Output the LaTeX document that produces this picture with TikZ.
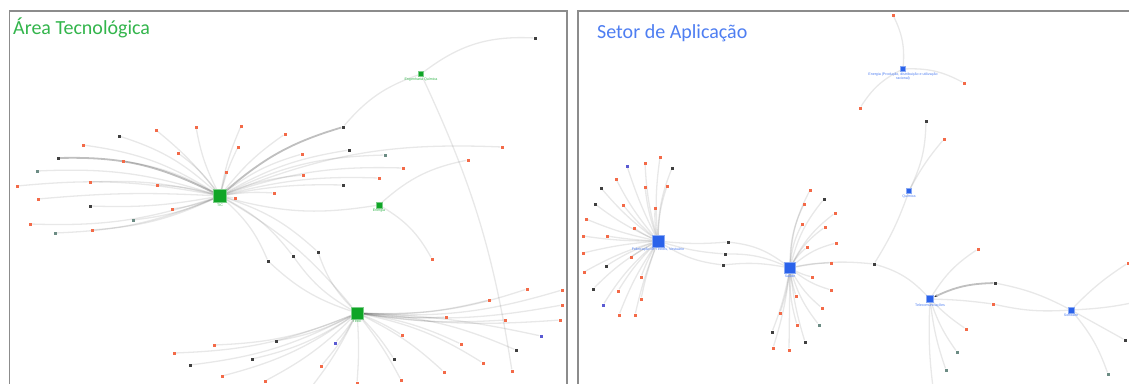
\documentclass[tikz,border=0pt]{standalone}
\usepackage{fontspec}
\setmainfont{Liberation Sans}
\newfontfamily\titlefont{Carlito}
\usetikzlibrary{backgrounds,arrows.meta}
\definecolor{orng}{HTML}{F36A48}
\definecolor{dkg}{HTML}{3F3F3F}
\definecolor{teal2}{HTML}{6C8C84}
\definecolor{purp}{HTML}{5A5AD2}
\definecolor{hubg}{HTML}{0FA526}
\definecolor{hubb}{HTML}{2A62EA}
\definecolor{titg}{HTML}{33B54C}
\definecolor{titb}{HTML}{4E7EF2}
\definecolor{framec}{HTML}{8C8C8C}
\tikzset{
 leaf/.style={rectangle,inner sep=0pt,minimum size=3pt,draw=none},
 lo/.style={leaf,fill=orng}, lk/.style={leaf,fill=dkg},
 lt/.style={leaf,fill=teal2}, lb/.style={leaf,fill=purp},
 hubG/.style={rectangle,inner sep=0pt,minimum size=#1,fill=hubg,draw=hubg!55!white,line width=0.5pt},
 hubB/.style={rectangle,inner sep=0pt,minimum size=#1,fill=hubb,draw=hubb!55!white,line width=0.5pt},
 lblG/.style={font=\fontsize{3.6}{4}\selectfont,text=titg,inner sep=0.3pt},
 lblB/.style={font=\fontsize{3.6}{4}\selectfont,text=titb,inner sep=0.3pt,align=center},
 edge/.style={draw=black,draw opacity=0.09,line width=1.3pt},
 heavy/.style={draw=black,draw opacity=0.25,line width=1.8pt},
 frm/.style={draw=framec,line width=1.5pt},
 ttl/.style={font=\titlefont\fontsize{20}{22}\selectfont,inner sep=0pt,anchor=base west},
}
\newcommand\myedge[3]{\draw[edge] (#1) to[bend left=#3] (#2);}
\begin{document}
\begin{tikzpicture}[x=1pt,y=1pt]
\useasboundingbox (0,0) rectangle (1129,-383);
\draw[frm] (9.5,-400) -- (9.5,-11) -- (567,-11) -- (567,-400);
\draw[frm] (578,-400) -- (578,-11) -- (1150,-11);
\node[ttl,text=titg] (tl) at (13,-34) {Área Tecnológica};
\node[ttl,text=titb] (tr) at (597,-38) {Setor de Aplicação};

% ---------- left panel hubs
\node[hubG=13pt,label={[lblG,label distance=0.3pt]below:TIC}] (tic) at (220,-196) {};
\node[hubG=12pt,label={[lblG,label distance=0.3pt]below:Têxtil}] (tex) at (357,-313) {};
\node[hubG=5pt,label={[lblG,label distance=0.3pt]below:Engenharia Química}] (engq) at (421,-74) {};
\node[hubG=6pt,label={[lblG,label distance=0.3pt]below:Energia}] (ener) at (379,-205) {};

% TIC leaves
\node[lk] (t1) at (119,-136) {}; \node[lo] (t2) at (156,-130) {};
\node[lo] (t3) at (196,-127) {}; \node[lo] (t4) at (241,-126) {};
\node[lo] (t5) at (285,-134) {}; \node[lo] (t6) at (83,-145) {};
\node[lo] (t7) at (178,-153) {}; \node[lo] (t8) at (238,-147) {};
\node[lk] (t9) at (58,-158) {};  \node[lo] (t10) at (123,-161) {};
\node[lt] (t11) at (37,-171) {}; \node[lo] (t12) at (226,-172) {};
\node[lo] (t13) at (17,-186) {}; \node[lo] (t14) at (90,-182) {};
\node[lo] (t15) at (157,-185) {}; \node[lo] (t16) at (274,-193) {};
\node[lo] (t17) at (235,-198) {}; \node[lo] (t18) at (38,-199) {};
\node[lk] (t19) at (90,-206) {}; \node[lo] (t20) at (172,-209) {};
\node[lo] (t21) at (30,-224) {}; \node[lt] (t22) at (133,-220) {};
\node[lo] (t23) at (92,-230) {}; \node[lt] (t24) at (55,-233) {};
\node[lk] (t25) at (343,-127) {}; \node[lo] (t26) at (302,-154) {};
\node[lk] (t27) at (349,-150) {}; \node[lt] (t28) at (385,-155) {};
\node[lo] (t29) at (502,-147) {}; \node[lo] (t30) at (303,-175) {};
\node[lo] (t31) at (403,-168) {}; \node[lo] (t32) at (379,-178) {};
\node[lk] (t33) at (343,-185) {};
\node[lk] (b1) at (268,-261) {}; \node[lk] (b2) at (293,-256) {};
\node[lk] (b3) at (318,-252) {};
\node[lo] (e1) at (468,-160) {}; \node[lo] (e2) at (432,-259) {};
\node[lk] (q1) at (535,-38) {};  \node[lo] (q2) at (512,-371) {};
% Textil leaves
\node[lo] (x1) at (527,-289) {}; \node[lo] (x2) at (562,-290) {};
\node[lo] (x3) at (489,-300) {}; \node[lo] (x4) at (562,-305) {};
\node[lo] (x5) at (446,-317) {}; \node[lo] (x6) at (505,-320) {};
\node[lo] (x7) at (560,-320) {}; \node[lb] (x8) at (541,-336) {};
\node[lo] (x9) at (402,-335) {}; \node[lo] (x10) at (461,-344) {};
\node[lk] (x11) at (516,-350) {}; \node[lo] (x12) at (483,-363) {};
\node[lo] (x13) at (444,-372) {}; \node[lk] (x14) at (394,-359) {};
\node[lo] (x15) at (401,-380) {}; \node[lo] (x16) at (357,-383) {};
\node[lo] (x17) at (321,-366) {}; \node[lo] (x18) at (265,-381) {};
\node[lb] (x19) at (335,-343) {}; \node[lk] (x20) at (276,-341) {};
\node[lo] (x21) at (214,-345) {}; \node[lo] (x22) at (174,-353) {};
\node[lk] (x23) at (252,-359) {}; \node[lk] (x24) at (190,-365) {};
\node[lo] (x25) at (222,-376) {};
\coordinate (xoff) at (305,-395);

% ---------- right panel hubs
\node[hubB=12pt,label={[lblB,label distance=0.3pt]below:Fabricação de Têxteis, Vestuário}] (fab) at (658,-241) {};
\node[hubB=11pt,label={[lblB,label distance=0.3pt]below:Saúde}] (sau) at (790,-268) {};
\node[hubB=5pt,label={[lblB,label distance=0.3pt]below:{Energia (Produção, distribuição e utilização\\racional)}}] (enr) at (903,-69) {};
\node[hubB=5pt,label={[lblB,label distance=0.3pt]below:Química}] (qui) at (909,-191) {};
\node[hubB=7pt,label={[lblB,label distance=0.3pt]below:Telecomunicações}] (tel) at (930,-299) {};
\node[hubB=6pt,label={[lblB,label distance=0.3pt]below:Software}] (sof) at (1071,-310) {};

% Fabricacao leaves
\node[lb] (f1) at (627,-166) {}; \node[lo] (f2) at (645,-163) {};
\node[lo] (f3) at (660,-157) {}; \node[lk] (f4) at (672,-168) {};
\node[lo] (f5) at (616,-179) {}; \node[lo] (f6) at (645,-187) {};
\node[lo] (f7) at (667,-186) {}; \node[lk] (f8) at (601,-188) {};
\node[lk] (f9) at (595,-204) {}; \node[lo] (f10) at (623,-205) {};
\node[lo] (f11) at (655,-208) {}; \node[lo] (f12) at (586,-219) {};
\node[lo] (f13) at (634,-228) {}; \node[lo] (f14) at (583,-236) {};
\node[lo] (f15) at (607,-236) {}; \node[lo] (f16) at (583,-253) {};
\node[lo] (f17) at (631,-257) {}; \node[lk] (f18) at (606,-266) {};
\node[lo] (f19) at (584,-272) {}; \node[lo] (f20) at (641,-277) {};
\node[lk] (f21) at (593,-289) {}; \node[lo] (f22) at (618,-291) {};
\node[lo] (f23) at (641,-299) {}; \node[lb] (f24) at (603,-305) {};
\node[lo] (f25) at (619,-315) {}; \node[lo] (f26) at (635,-315) {};
\node[lk] (c1) at (728,-242) {}; \node[lk] (c2) at (725,-254) {};
\node[lk] (c3) at (723,-265) {};
% Saude leaves
\node[lo] (s1) at (810,-190) {}; \node[lo] (s2) at (804,-204) {};
\node[lk] (s3) at (824,-199) {}; \node[lo] (s4) at (835,-213) {};
\node[lo] (s5) at (802,-224) {}; \node[lo] (s6) at (825,-227) {};
\node[lo] (s7) at (807,-247) {}; \node[lo] (s8) at (836,-243) {};
\node[lo] (s9) at (831,-263) {}; \node[lo] (s10) at (812,-277) {};
\node[lo] (s11) at (831,-290) {}; \node[lo] (s12) at (796,-296) {};
\node[lo] (s13) at (822,-308) {}; \node[lo] (s14) at (780,-313) {};
\node[lo] (s15) at (797,-325) {}; \node[lt] (s16) at (819,-325) {};
\node[lk] (s17) at (772,-332) {}; \node[lk] (s18) at (805,-342) {};
\node[lo] (s19) at (773,-348) {}; \node[lo] (s20) at (789,-350) {};
\node[lk] (jn) at (874,-264) {};
% others
\node[lo] (r1) at (893,-15) {}; \node[lo] (r2) at (964,-83) {};
\node[lo] (r3) at (860,-108) {};
\node[lk] (u1) at (926,-121) {}; \node[lo] (u2) at (944,-139) {};
\node[lo] (l1) at (978,-249) {}; \node[lk] (l2) at (995,-283) {};
\node[lo] (l3) at (993,-304) {}; \node[lo] (l4) at (966,-329) {};
\node[lt] (l5) at (957,-352) {}; \node[lt] (l6) at (946,-370) {};
\coordinate (loff) at (934,-395);
\node[lo] (w1) at (1128,-263) {}; \coordinate (woff) at (1145,-300);
\node[lk] (w2) at (1125,-340) {}; \node[lt] (w3) at (1108,-374) {};

\begin{pgfonlayer}{background}
\fill[white] (0,0) rectangle (1129,-383);
\foreach \n/\b in {t1/-12,t2/-6,t3/8,t4/6,t5/8,t6/-12,t7/-8,t8/5,t10/-10,t11/-10,
  t12/0,t13/-8,t14/-8,t15/-6,t16/6,t17/0,t18/-4,t19/6,t20/6,t21/10,t22/8,t23/10,
  t24/10,t26/10,t27/10,t28/12,t29/12,t30/8,t31/10,t32/8,t33/6,ener/-12,
  b1/12,b2/12,b3/12,tex/10}
  {\myedge{tic}{\n}{\b}}
\draw[heavy] (tic) to[bend left=-14] (t9);
\draw[heavy] (tic) to[bend left=12] (t25);
\foreach \n in {b1,b2,b3} {\myedge{\n}{tex}{-12}}
\myedge{engq}{q1}{20}
\myedge{engq}{t25}{-15}
\myedge{engq}{q2}{8}
\myedge{ener}{e1}{15}
\myedge{ener}{e2}{15}
\foreach \n/\b in {x1/-10,x2/-10,x3/-8,x4/-8,x5/-5,x6/-6,x7/-6,x8/5,x9/5,x10/8,
  x11/10,x12/10,x13/8,x14/5,x15/5,x16/4,x17/6,x18/8,x19/5,x20/8,x21/10,x22/10,
  x23/10,x24/10,x25/10,xoff/6}
  {\myedge{tex}{\n}{\b}}
\foreach \n/\b in {f1/4,f2/6,f3/6,f4/10,f5/6,f6/6,f7/8,f8/6,f9/6,f10/4,f11/6,
  f12/5,f13/4,f14/4,f15/3,f16/-4,f17/-3,f18/-6,f19/-6,f20/-4,f21/-8,f22/-6,
  f23/-4,f24/-8,f25/-6,f26/-4,c1/-5,c2/-6,c3/-12}
  {\myedge{fab}{\n}{\b}}
\myedge{c1}{sau}{15}
\myedge{c2}{sau}{12}
\myedge{c3}{sau}{8}
\foreach \n/\b in {s1/12,s2/12,s3/12,s4/12,s5/10,s6/12,s7/8,s8/12,s9/6,s10/-6,
  s11/-10,s12/-5,s13/-10,s14/5,s15/-8,s16/-10,s17/5,s18/-5,s19/5,s20/0,jn/8}
  {\myedge{sau}{\n}{\b}}
\myedge{jn}{qui}{-6}
\myedge{jn}{tel}{15}
\myedge{enr}{r1}{-15}
\myedge{enr}{r2}{15}
\myedge{enr}{r3}{-15}
\myedge{qui}{u1}{-12}
\myedge{qui}{u2}{6}
\myedge{tel}{l1}{12}
\draw[heavy,-{Stealth[length=4pt,width=3pt]}] (l2) to[bend left=-12] (tel);
\foreach \n/\b in {l3/3,l4/-5,l5/-8,l6/-6,loff/-5} {\myedge{tel}{\n}{\b}}
\myedge{l2}{sof}{8}
\myedge{l3}{sof}{-8}
\foreach \n/\b in {w1/6,woff/-5,w2/0,w3/10} {\myedge{sof}{\n}{\b}}
\end{pgfonlayer}
\end{tikzpicture}
\end{document}
